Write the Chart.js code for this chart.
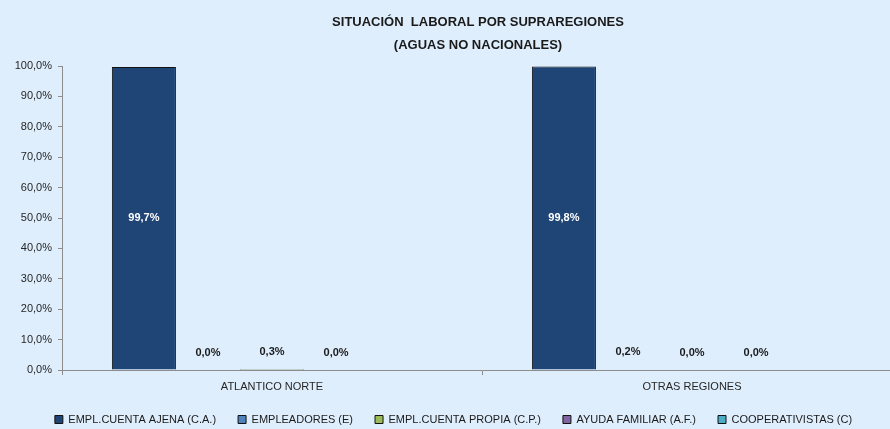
<!DOCTYPE html>
<html>
<head>
<meta charset="utf-8">
<script src="https://cdn.jsdelivr.net/npm/chart.js@4/dist/chart.umd.min.js"></script>
<style>
  html, body { margin: 0; padding: 0; background: #dfeefc; overflow: hidden; }
  #wrap { width: 910px; height: 429px; }
</style>
</head>
<body>
<div id="wrap"><canvas id="chart" width="910" height="429"></canvas></div>
<script>
const regions = ['ATLANTICO NORTE', 'OTRAS REGIONES'];
const seriesNames = ['EMPL.CUENTA AJENA (C.A.)', 'EMPLEADORES (E)', 'EMPL.CUENTA PROPIA (C.P.)', 'AYUDA FAMILIAR (A.F.)', 'COOPERATIVISTAS (C)'];
const seriesColors = ['#1f4577', '#4f81bd', '#9bbb59', '#8064a2', '#4bacc6'];
const cuentaAjena = [99.7, 99.8];
const empleadores = [0.0, 0.2];
const cuentaPropia = [0.3, 0.0];
const ayudaFamiliar = [0.0, 0.0];
const cooperativistas = [null, null];
const titleLines = ['SITUACIÓN  LABORAL POR SUPRAREGIONES', '(AGUAS NO NACIONALES)'];

const FONT = "'Liberation Sans', Arial, sans-serif";
const allSeries = [cuentaAjena, empleadores, cuentaPropia, ayudaFamiliar, cooperativistas];

function pct(v) {
    return v.toFixed(1).replace('.', ',') + '%';
}

// title is centred over the plot, not the canvas
const titlePlugin = {
    id: 'centeredTitle',
    afterDraw(chart) {
        const ctx = chart.ctx;
        ctx.save();
        ctx.fillStyle = '#1a1a1a';
        ctx.font = 'bold 13px ' + FONT;
        ctx.textAlign = 'center';
        ctx.textBaseline = 'middle';
        ctx.fillText(titleLines[0], 478, 22);
        ctx.fillText(titleLines[1], 478, 45);
        ctx.restore();
    }
};

const labelPlugin = {
    id: 'barLabels',
    afterDatasetsDraw(chart) {
        const ctx = chart.ctx;
        ctx.save();
        ctx.font = 'bold 11px ' + FONT;
        ctx.textAlign = 'center';
        ctx.textBaseline = 'middle';
        chart.data.datasets.forEach((ds, di) => {
            const meta = chart.getDatasetMeta(di);
            meta.data.forEach((bar, i) => {
                const v = ds.data[i];
                if (v === null || v === undefined) return;
                if (di === 0) {
                    ctx.fillStyle = '#ffffff';
                    ctx.fillText(pct(v), bar.x, (bar.y + bar.base) / 2);
                } else {
                    ctx.fillStyle = '#1a1a1a';
                    ctx.fillText(pct(v), bar.x, bar.y - 17);
                }
            });
        });
        ctx.restore();
    }
};

new Chart(document.getElementById('chart'), {
    type: 'bar',
    data: {
        labels: regions,
        datasets: seriesNames.map((name, i) => ({
            label: name,
            data: allSeries[i],
            backgroundColor: seriesColors[i],
            borderColor: '#111111',
            borderWidth: 1,
            categoryPercentage: 0.7625,
            barPercentage: 1
        }))
    },
    options: {
        responsive: false,
        animation: false,
        layout: { padding: { top: 66, left: 5, right: 8, bottom: -6 } },
        plugins: {
            title: { display: false },
            tooltip: { enabled: false },
            legend: {
                position: 'bottom',
                labels: {
                    boxWidth: 8,
                    boxHeight: 8,
                    padding: 22,
                    color: '#1a1a1a',
                    font: { family: FONT, size: 11 }
                }
            }
        },
        scales: {
            x: {
                border: { color: '#8c8c8c' },
                grid: { offset: true, drawOnChartArea: false, tickLength: 5, color: '#8c8c8c' },
                ticks: { color: '#262626', font: { family: FONT, size: 11 }, padding: 5 },
                afterFit(scale) { scale.height = 22; }
            },
            y: {
                min: 0,
                max: 100,
                border: { color: '#8c8c8c' },
                grid: { drawOnChartArea: false, tickLength: 4, color: '#8c8c8c' },
                ticks: {
                    stepSize: 10,
                    color: '#262626',
                    font: { family: FONT, size: 11 },
                    padding: 6,
                    callback: (v) => pct(v)
                },
                afterFit(scale) { scale.width = 57; }
            }
        }
    },
    plugins: [titlePlugin, labelPlugin]
});
</script>
</body>
</html>
